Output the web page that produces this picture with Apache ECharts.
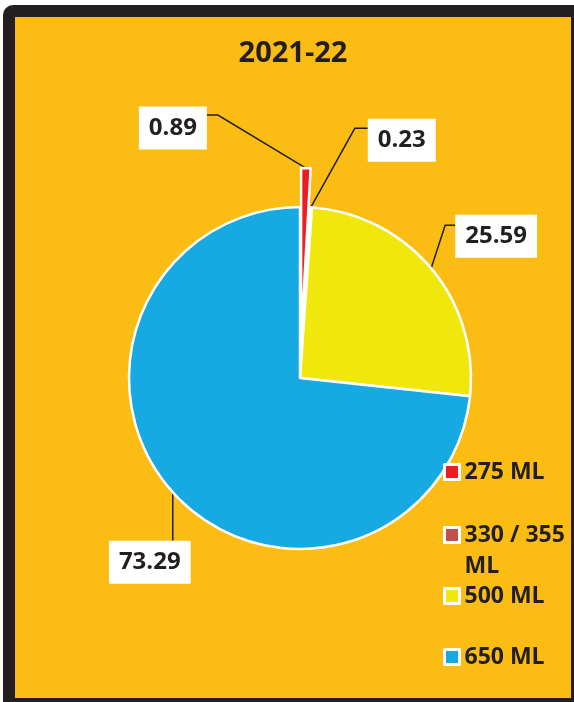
<!DOCTYPE html>
<html><head><meta charset="utf-8">
<script src="https://cdn.jsdelivr.net/npm/echarts@6/dist/echarts.min.js"></script>
<style>html,body{margin:0;padding:0;background:#fff}#c{width:574px;height:702px}</style>
</head><body><div id="c"></div>
<script>
const chartTitle = '2021-22';
const categories = ['275 ML', '330 / 355 ML', '500 ML', '650 ML'];
const shares = [0.89, 0.23, 25.59, 73.29];
const sliceColors = ['#ED1C24', '#C0504D', '#F0E80C', '#17A9E1'];
const explodedIndex = 0;

const FONT = '"Open Sans", "Noto Sans", sans-serif';
const INK = '#231F20';
const CX = 300, CY = 378, R = 171, EXPLODE = 39;
// label box centre / elbow relative to the slice anchor point
const labelPlace = [
  {box: [-133, -40], elbow: [-88, -53], side: 'right'},
  {box: [91, -67], elbow: [44, -79], side: 'left'},
  {box: [65, -32], elbow: [14, -43], side: 'left'},
  {box: [-23, 70], elbow: [0, 25], side: 'top'}
];
const legendCentres = [472, 535, 596, 657];

// offset of the exploded slice, from its mid angle (clockwise from 12 o'clock)
const total = shares.reduce((a, b) => a + b, 0);
const before = shares.slice(0, explodedIndex).reduce((a, b) => a + b, 0);
const midAng = (before + shares[explodedIndex] / 2) / total * Math.PI * 2;
const explodedCenter = [CX + Math.sin(midAng) * EXPLODE, CY - Math.cos(midAng) * EXPLODE];

const chart = echarts.init(document.getElementById('c'), null, {renderer: 'canvas'});

const legends = categories.map((name, i) => {
  const twoLine = name.length > 8;
  return {
    data: [{name: name, itemStyle: {color: sliceColors[i], borderColor: '#fff', borderWidth: 3}}],
    orient: 'vertical',
    left: 443,
    top: twoLine ? legendCentres[i] - 46.5 : legendCentres[i] - 15.5,
    padding: 0,
    icon: 'rect',
    itemWidth: 15,
    itemHeight: 15,
    selectedMode: false,
    formatter: twoLine ? (n => '\n' + n) : (n => n),
    textStyle: {
      fontFamily: FONT, fontSize: 23, fontWeight: 'bold', color: INK, lineHeight: 31,
      width: 112, overflow: 'break'
    }
  };
});

function placeLabel(p) {
  const pts = p.labelLinePoints;
  if (!pts) return {};
  const pl = labelPlace[p.dataIndex];
  const ax = pts[0][0], ay = pts[0][1];
  const w = p.labelRect.width, h = p.labelRect.height;
  let end;
  if (pl.side === 'right') end = [pl.box[0] + w / 2, pl.elbow[1]];
  else if (pl.side === 'left') end = [pl.box[0] - w / 2, pl.elbow[1]];
  else end = [pl.elbow[0], pl.box[1] - h / 2];
  return {
    x: ax + pl.box[0],
    y: ay + pl.box[1],
    align: 'center',
    verticalAlign: 'middle',
    labelLinePoints: [[ax, ay], [ax + pl.elbow[0], ay + pl.elbow[1]], [ax + end[0], ay + end[1]]]
  };
}

const labelStyle = {
  show: true, position: 'outside', formatter: '{c}',
  fontFamily: FONT, fontSize: 24, fontWeight: 'bold', color: INK,
  backgroundColor: '#fff', padding: [7, 10, 8, 10], lineHeight: 28
};
const lineStyle = {show: true, length: 20, length2: 10, lineStyle: {color: INK, width: 1.5}};

chart.setOption({
  animation: false,
  backgroundColor: '#fff',
  graphic: [
    {type: 'rect', shape: {x: 3, y: 5, width: 590, height: 720, r: 10}, style: {fill: INK}, z: -10},
    {type: 'rect', shape: {x: 15, y: 17, width: 556, height: 681}, style: {fill: '#FBBD13'}, z: -9},
    {type: 'text', x: 293, y: 54, z: 5,
      style: {text: chartTitle, align: 'center', verticalAlign: 'middle', fontSize: 29, fontWeight: 'bold', fontFamily: FONT, fill: INK}}
  ],
  legend: legends,
  series: [{
    // main pie; the exploded slice leaves a white gap here
    type: 'pie',
    center: [CX, CY],
    radius: R,
    startAngle: 90,
    clockwise: true,
    avoidLabelOverlap: false,
    silent: true,
    data: categories.map((n, i) => ({
      name: n, value: shares[i],
      itemStyle: {color: i === explodedIndex ? '#fff' : sliceColors[i]},
      label: {show: i !== explodedIndex},
      labelLine: {show: i !== explodedIndex}
    })),
    itemStyle: {borderColor: '#fff', borderWidth: 2.5},
    label: labelStyle,
    labelLine: lineStyle,
    emphasis: {disabled: true},
    labelLayout: placeLabel
  }, {
    // the exploded slice, pulled out along its mid angle
    type: 'pie',
    center: explodedCenter,
    radius: R,
    startAngle: 90,
    clockwise: true,
    avoidLabelOverlap: false,
    silent: true,
    data: categories.map((n, i) => ({
      name: n, value: shares[i],
      itemStyle: i === explodedIndex
        ? {color: sliceColors[i], borderColor: '#fff', borderWidth: 2.5}
        : {color: 'transparent', borderWidth: 0},
      label: {show: i === explodedIndex},
      labelLine: {show: i === explodedIndex}
    })),
    label: labelStyle,
    labelLine: lineStyle,
    emphasis: {disabled: true},
    labelLayout: placeLabel
  }]
});
</script>
</body></html>
